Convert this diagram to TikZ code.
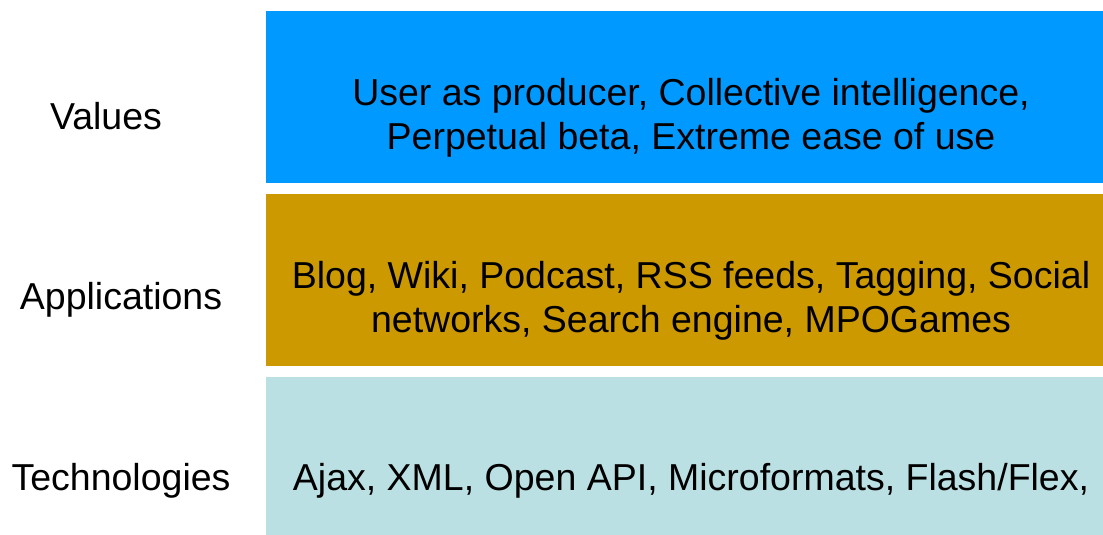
\documentclass[tikz,border=0pt]{standalone}
\usepackage{fontspec}
\setmainfont{Liberation Sans}
\definecolor{valblue}{HTML}{0099FF}
\definecolor{appgold}{HTML}{CC9900}
\definecolor{techblue}{HTML}{BBE0E3}
\begin{document}
\begin{tikzpicture}[x=1pt,y=-1pt,
  layer/.style={fill=#1,draw=none},
  lbl/.style={font=\fontsize{37.5}{44}\selectfont,inner sep=0pt},
  body/.style={font=\fontsize{37.5}{44}\selectfont,inner sep=0pt,align=center}]
\useasboundingbox (0,0) rectangle (1103,535);
\path[layer=valblue] (266,11) rectangle (1103,183);
\path[layer=appgold] (266,194) rectangle (1103,366);
\path[layer=techblue] (266,377) rectangle (1103,535);
\node[body] (vtext) at (691,118) {User as producer, Collective intelligence,\\Perpetual beta, Extreme ease of use};
\node[body] (atext) at (691,301) {Blog, Wiki, Podcast, RSS feeds, Tagging, Social\\networks, Search engine, MPOGames};
\node[body] (ttext) at (691,481) {Ajax, XML, Open API, Microformats, Flash/Flex,};
\node[lbl] (vl) at (106,116) {Values};
\node[lbl] (al) at (121,300) {Applications};
\node[lbl] (tl) at (121,481) {Technologies};
\end{tikzpicture}
\end{document}
